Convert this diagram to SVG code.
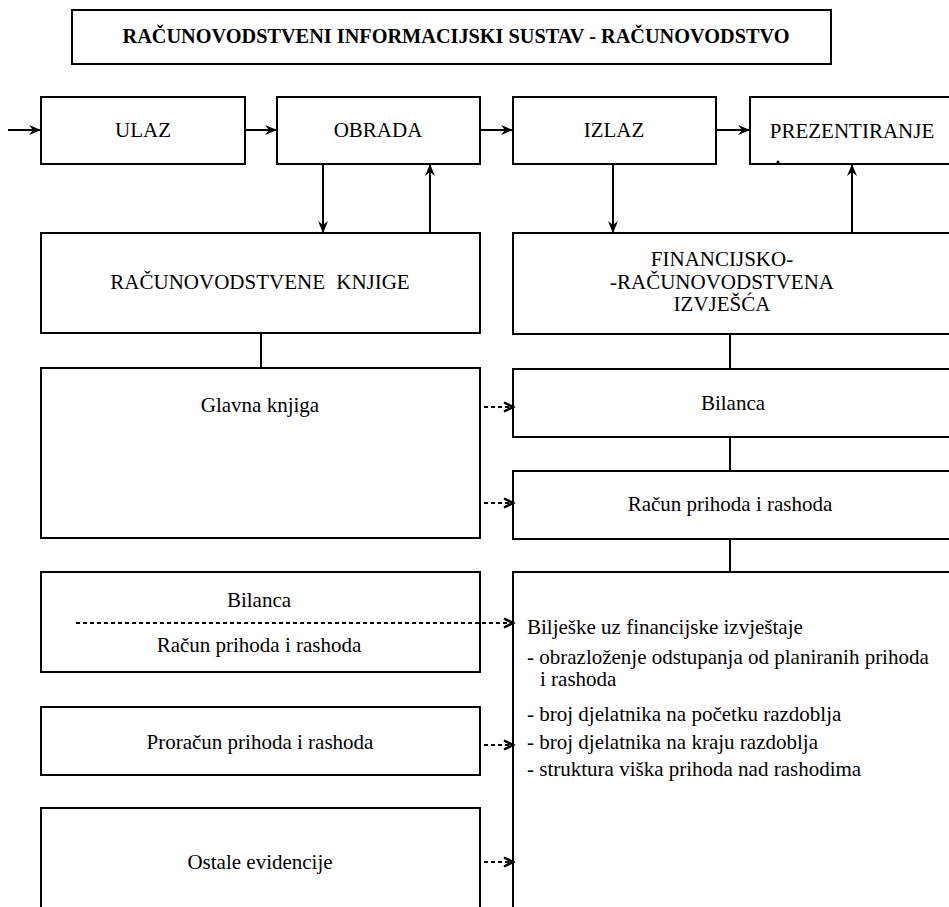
<svg xmlns="http://www.w3.org/2000/svg" width="949" height="907" viewBox="0 0 949 907">
<defs>
<marker id="ah" markerUnits="userSpaceOnUse" markerWidth="14" markerHeight="12" refX="12" refY="5" orient="auto">
<path d="M0,0 L12,5 L0,10 L4,5 z" fill="#000"/>
</marker>
<marker id="dh" markerUnits="userSpaceOnUse" markerWidth="14" markerHeight="14" refX="10" refY="6" orient="auto">
<path d="M1,1.5 L10,6 L1,10.5" fill="none" stroke="#000" stroke-width="2.5"/>
</marker>
</defs>
<style>
rect{fill:#fff;stroke:#000;stroke-width:2}
text{font-family:"Liberation Serif","Times New Roman",serif;font-size:21px;fill:#000}
.c{text-anchor:middle}
.b{font-weight:bold;font-size:20.3px}
.ln{stroke:#000;stroke-width:2;fill:none}
.ar{stroke:#000;stroke-width:2;fill:none;marker-end:url(#ah)}
.da{stroke:#000;stroke-width:2;fill:none;stroke-dasharray:4 3;marker-end:url(#dh)}
</style>
<rect width="949" height="907" style="fill:#fff;stroke:none"/>
<g id="title">
<rect x="72" y="10" width="759" height="54"/>
<text class="c b" x="456" y="43">RAČUNOVODSTVENI INFORMACIJSKI SUSTAV - RAČUNOVODSTVO</text>
</g>
<g id="ulaz"><rect x="41" y="97" width="204" height="67"/><text class="c" x="143" y="137">ULAZ</text></g>
<g id="obrada"><rect x="277" y="97" width="203" height="67"/><text class="c" x="378" y="137">OBRADA</text></g>
<g id="izlaz"><rect x="513" y="97" width="203" height="67"/><text class="c" x="614" y="137">IZLAZ</text></g>
<g id="prezentiranje"><rect x="750" y="97" width="210" height="67"/><text class="c" x="852" y="138">PREZENTIRANJE</text><circle cx="778" cy="162" r="1.5" fill="#000"/></g>
<g id="racunovodstvene-knjige"><rect x="41" y="233" width="439" height="100"/><text class="c" x="260" y="289" style="word-spacing:6px">RAČUNOVODSTVENE KNJIGE</text></g>
<g id="fin-izvjesca"><rect x="513" y="233" width="447" height="101"/>
<text class="c" x="722" y="266">FINANCIJSKO-</text>
<text class="c" x="722" y="289">-RAČUNOVODSTVENA</text>
<text class="c" x="722" y="311">IZVJEŠĆA</text></g>
<g id="glavna-knjiga"><rect x="41" y="368" width="439" height="170"/><text class="c" x="260" y="412">Glavna knjiga</text></g>
<g id="bilanca"><rect x="513" y="369" width="447" height="68"/><text class="c" x="733" y="410">Bilanca</text></g>
<g id="racun-prihoda"><rect x="513" y="471" width="447" height="68"/><text class="c" x="730" y="511">Račun prihoda i rashoda</text></g>
<g id="bilanca-racun"><rect x="41" y="572" width="439" height="100"/>
<text class="c" x="259" y="607">Bilanca</text>
<text class="c" x="259" y="652">Račun prihoda i rashoda</text></g>
<g id="biljeske"><rect x="513" y="572" width="447" height="345"/>
<text x="527" y="634">Bilješke uz financijske izvještaje</text>
<text x="527" y="664">- obrazloženje odstupanja od planiranih prihoda</text>
<text x="540" y="686">i rashoda</text>
<text x="527" y="721">- broj djelatnika na početku razdoblja</text>
<text x="527" y="749">- broj djelatnika na kraju razdoblja</text>
<text x="527" y="776">- struktura viška prihoda nad rashodima</text></g>
<g id="proracun"><rect x="41" y="707" width="439" height="68"/><text class="c" x="260" y="749">Proračun prihoda i rashoda</text></g>
<g id="ostale"><rect x="41" y="808" width="439" height="110"/><text class="c" x="260" y="869">Ostale evidencije</text></g>
<g id="connectors">
<line class="ar" x1="8" y1="130" x2="41" y2="130"/>
<line class="ar" x1="245" y1="130" x2="277" y2="130"/>
<line class="ar" x1="480" y1="130" x2="513" y2="130"/>
<line class="ar" x1="716" y1="130" x2="750" y2="130"/>
<line class="ar" x1="323" y1="164" x2="323" y2="233"/>
<line class="ar" x1="430" y1="233" x2="430" y2="164"/>
<line class="ar" x1="613" y1="164" x2="613" y2="233"/>
<line class="ar" x1="852" y1="233" x2="852" y2="164"/>
<line class="ln" x1="261" y1="333" x2="261" y2="368"/>
<line class="ln" x1="730" y1="334" x2="730" y2="369"/>
<line class="ln" x1="730" y1="437" x2="730" y2="471"/>
<line class="ln" x1="730" y1="539" x2="730" y2="572"/>
<line class="da" x1="484" y1="407" x2="513" y2="407"/>
<line class="da" x1="484" y1="503" x2="513" y2="503"/>
<line class="da" x1="76" y1="623" x2="513" y2="623"/>
<line class="da" x1="484" y1="745" x2="513" y2="745"/>
<line class="da" x1="484" y1="862" x2="513" y2="862"/>
</g>
</svg>
